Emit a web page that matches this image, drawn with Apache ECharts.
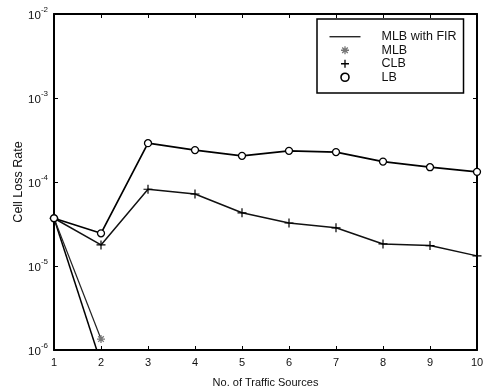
<!DOCTYPE html>
<html>
<head>
<meta charset="utf-8">
<script src="https://cdn.jsdelivr.net/npm/echarts@6/dist/echarts.min.js"></script>
<style>html,body{margin:0;padding:0;background:#fff}#c{width:486px;height:390px}</style>
</head>
<body>
<div id="c"></div>
<script>
var xValues = [1, 2, 3, 4, 5, 6, 7, 8, 9, 10];
var lbValues = [3.7e-5, 2.45e-5, 2.9e-4, 2.4e-4, 2.05e-4, 2.35e-4, 2.27e-4, 1.75e-4, 1.5e-4, 1.32e-4];
var clbValues = [3.7e-5, 1.78e-5, 8.2e-5, 7.2e-5, 4.3e-5, 3.25e-5, 2.85e-5, 1.83e-5, 1.75e-5, 1.32e-5];
var mlbX = [1, 2];
var mlbValues = [3.7e-5, 1.35e-6];
var firX = [1, 2];
var firValues = [3.7e-5, 7e-7];
var yTickExponents = [-6, -5, -4, -3, -2];

var font = 'Liberation Sans, Arial, sans-serif';
function pairs(xs, ys) { return xs.map(function (x, i) { return [x, ys[i]]; }); }

var plusPath = 'path://M5,0L5,10M0,5L10,5';
var starPath = 'path://M5,0L5,10M0,5L10,5M1.5,1.5L8.5,8.5M1.5,8.5L8.5,1.5';
var linePath = 'path://M0,0M0,4L31,4M31,8';

var chart = echarts.init(document.getElementById('c'));
chart.setOption({
  animation: false,
  backgroundColor: '#fff',
  grid: { left: 54, right: 9, top: 14, bottom: 40, outerBoundsMode: 'none', containLabel: false },
  xAxis: [{
    type: 'value', min: 1, max: 10, interval: 1,
    name: 'No. of Traffic Sources', nameLocation: 'middle', nameGap: 27,
    nameTextStyle: { fontFamily: font, fontSize: 11, color: '#111' },
    axisLine: { lineStyle: { color: '#000', width: 2 } },
    axisTick: { inside: true, length: 4, lineStyle: { color: '#000' } },
    axisLabel: { fontFamily: font, fontSize: 11, color: '#111', margin: 7 },
    splitLine: { show: false }
  }, {
    type: 'value', min: 1, max: 10, interval: 1, position: 'top',
    axisLine: { lineStyle: { color: '#000', width: 2 } },
    axisTick: { inside: true, length: 4, lineStyle: { color: '#000' } },
    axisLabel: { show: false }, splitLine: { show: false }
  }],
  yAxis: [{
    type: 'log', logBase: 10, min: 1e-6, max: 1e-2,
    name: 'Cell Loss Rate', nameLocation: 'middle', nameGap: 29, nameMoveOverlap: false,
    nameTextStyle: { fontFamily: font, fontSize: 12.5, color: '#111' },
    axisLine: { lineStyle: { color: '#000', width: 2 } },
    axisTick: { inside: true, length: 4, lineStyle: { color: '#000' } },
    axisLabel: {
      fontFamily: font, margin: 6,
      formatter: function (v) {
        var e = Math.round(Math.log10(v));
        if (yTickExponents.indexOf(e) < 0) return '';
        return '{b|10}{s|' + e + '}';
      },
      rich: {
        b: { fontFamily: font, fontSize: 11.5, color: '#111', verticalAlign: 'bottom', lineHeight: 16 },
        s: { fontFamily: font, fontSize: 8, color: '#111', verticalAlign: 'top', lineHeight: 16 }
      }
    },
    splitLine: { show: false }
  }, {
    type: 'log', logBase: 10, min: 1e-6, max: 1e-2, position: 'right',
    axisLine: { lineStyle: { color: '#000', width: 2 } },
    axisTick: { inside: true, length: 4, lineStyle: { color: '#000' } },
    axisLabel: { show: false }, splitLine: { show: false }
  }],
  legend: {
    orient: 'vertical', left: 317, top: 19,
    padding: [11, 7, 9, 10],
    backgroundColor: '#fff',
    borderColor: '#000', borderWidth: 1.5, borderRadius: 0,
    itemWidth: 31, itemHeight: 8, itemGap: 0,
    textStyle: { fontFamily: font, fontSize: 12.5, color: '#111', padding: [0, 0, 0, 16], lineHeight: 13.5 },
    data: [
      { name: 'MLB with FIR', icon: linePath, itemStyle: { color: 'none', borderColor: '#000', borderWidth: 1.2 } },
      { name: 'MLB', icon: starPath, itemStyle: { color: 'none', borderColor: '#777', borderWidth: 1.3 } },
      { name: 'CLB', icon: plusPath, itemStyle: { color: 'none', borderColor: '#000', borderWidth: 1.3 } },
      { name: 'LB', icon: 'circle', itemStyle: { color: 'none', borderColor: '#000', borderWidth: 1.6 } }
    ]
  },
  series: [{
    name: 'MLB with FIR', type: 'line', data: pairs(firX, firValues),
    showSymbol: false, symbol: 'none', clip: true,
    lineStyle: { color: '#000', width: 1.5 }, itemStyle: { color: '#000' }
  }, {
    name: 'MLB', type: 'line', data: pairs(mlbX, mlbValues),
    symbol: starPath, symbolSize: 8, clip: true,
    lineStyle: { color: '#222', width: 1.2 },
    itemStyle: { color: 'none', borderColor: '#777', borderWidth: 1.3 }
  }, {
    name: 'CLB', type: 'line', data: pairs(xValues, clbValues),
    symbol: plusPath, symbolSize: 9, clip: true,
    lineStyle: { color: '#111', width: 1.5 },
    itemStyle: { color: 'none', borderColor: '#000', borderWidth: 1.2 }
  }, {
    name: 'LB', type: 'line', data: pairs(xValues, lbValues),
    symbol: 'circle', symbolSize: 7, clip: true,
    lineStyle: { color: '#000', width: 1.7 },
    itemStyle: { color: '#fff', borderColor: '#000', borderWidth: 1.3 }
  }]
});
</script>
</body>
</html>
